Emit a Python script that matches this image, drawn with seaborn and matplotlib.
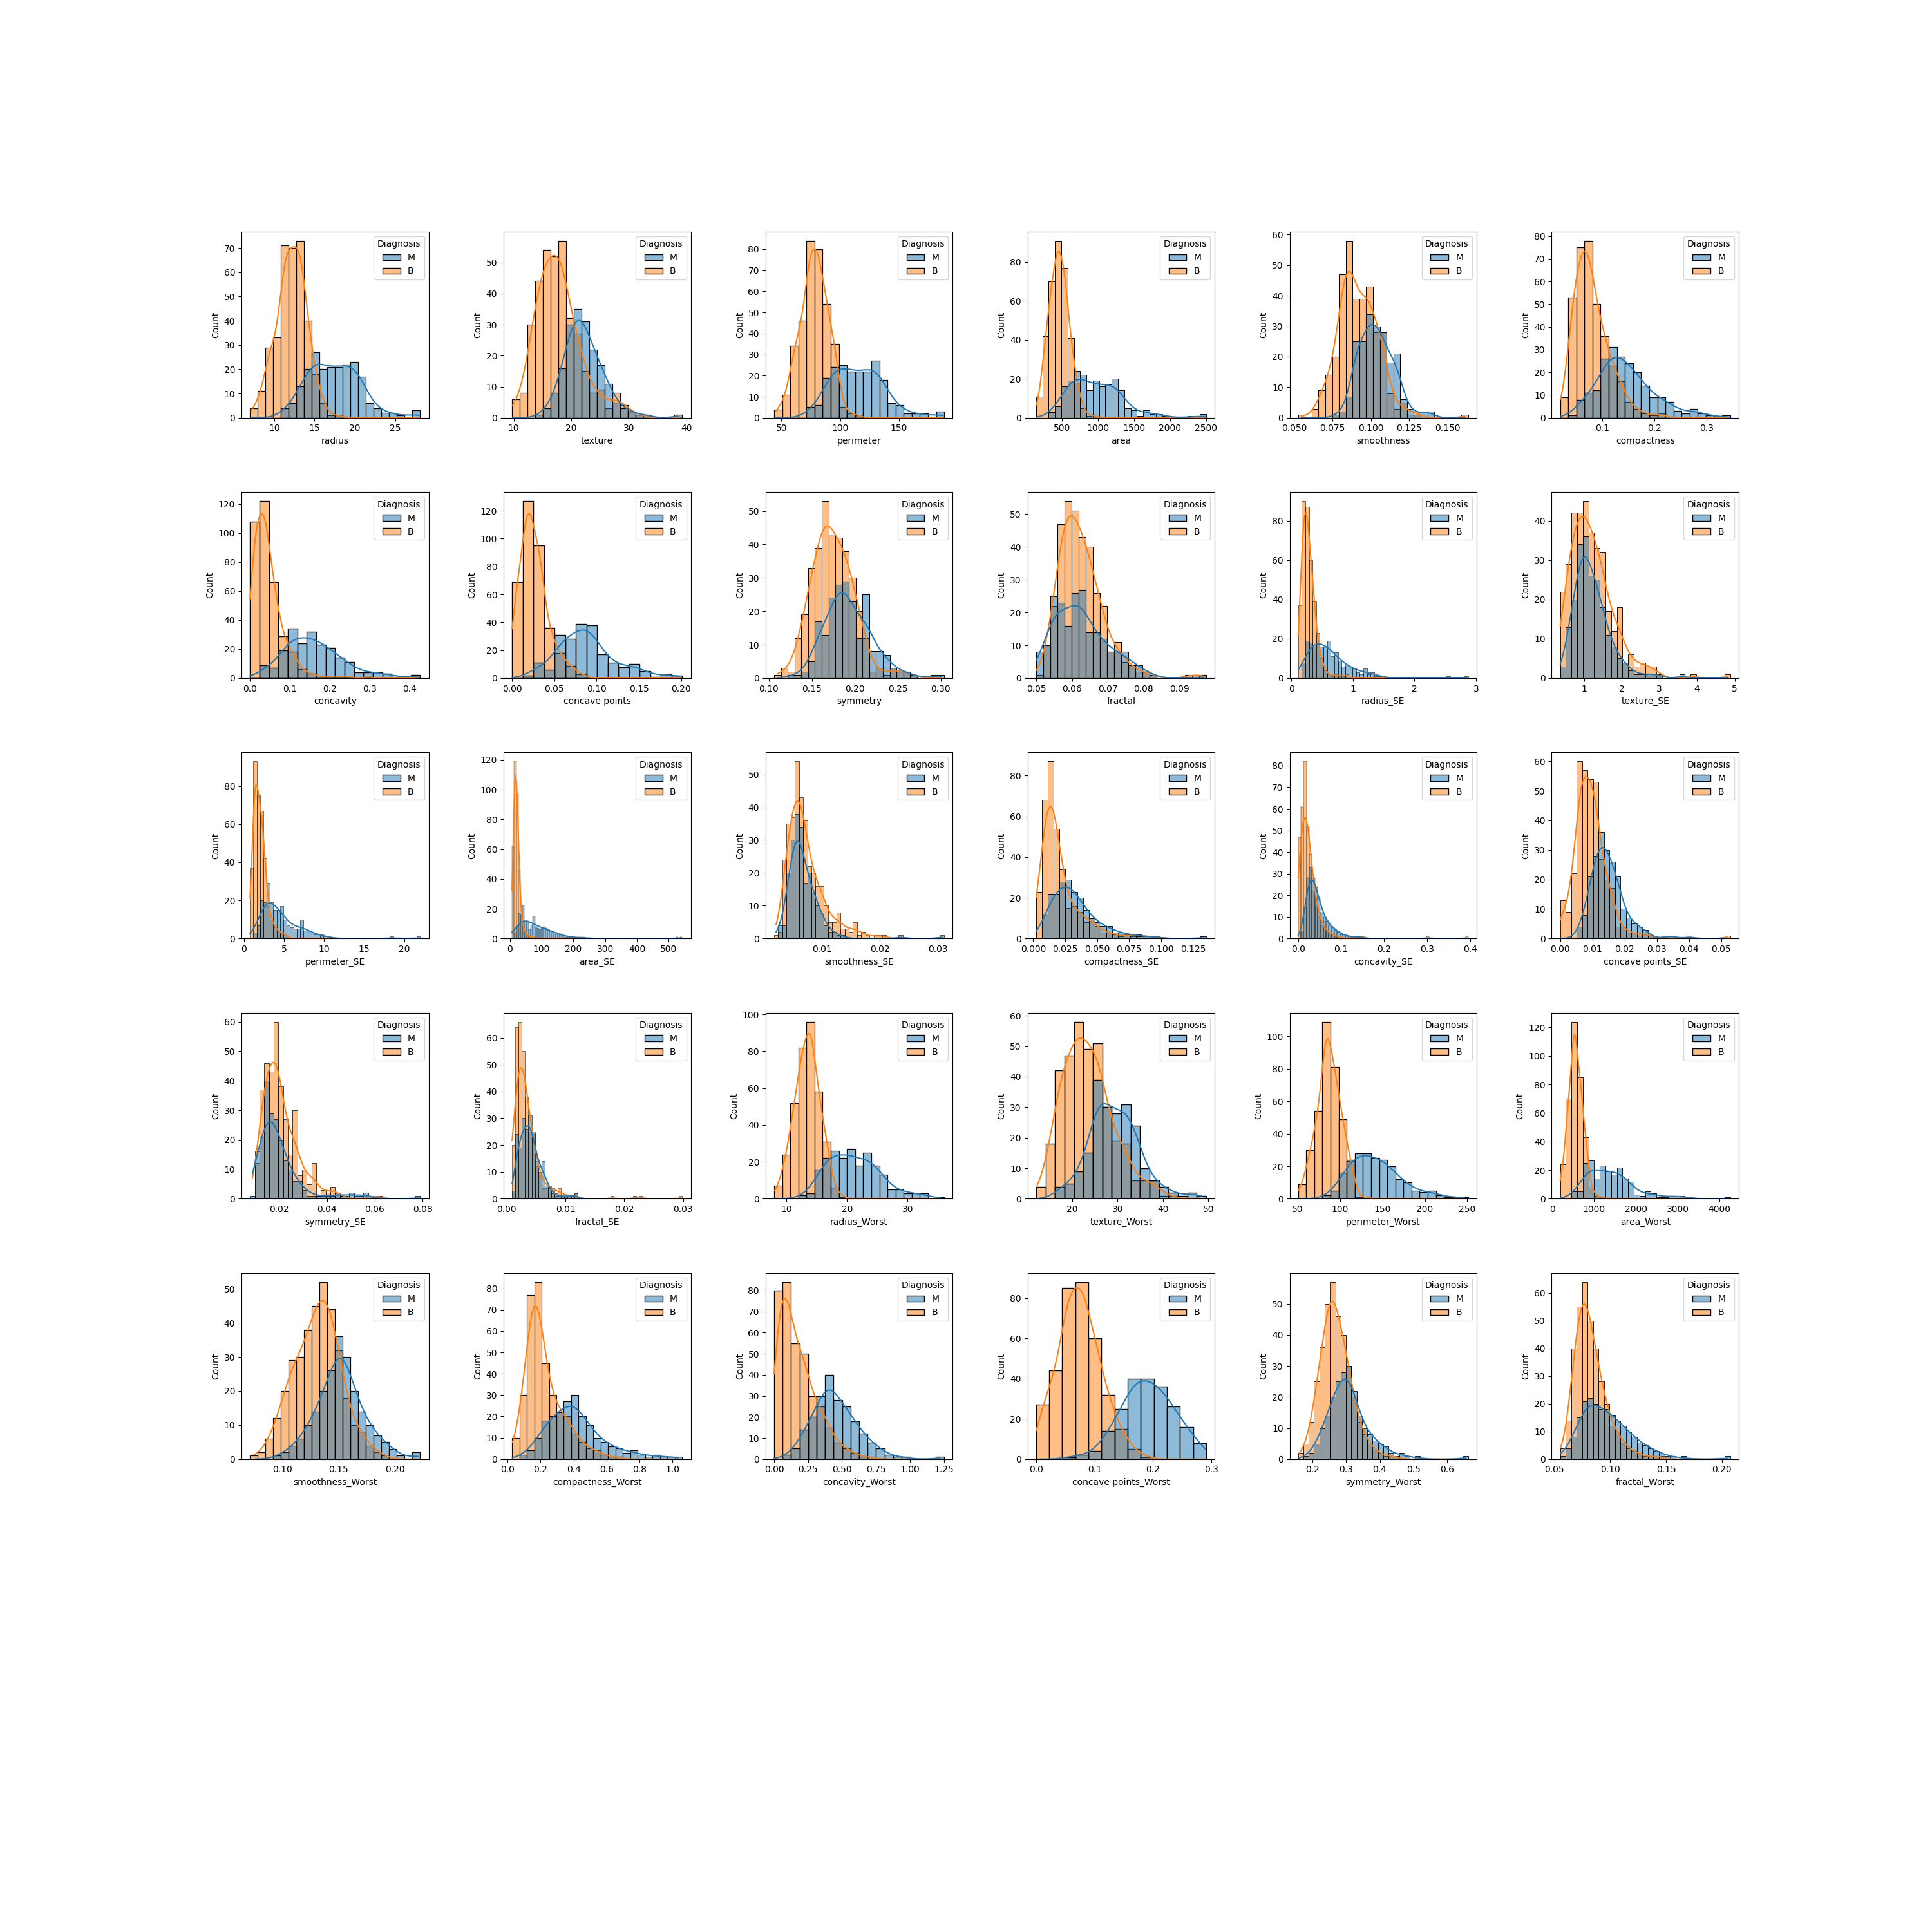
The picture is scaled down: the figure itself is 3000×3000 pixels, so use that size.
import numpy as np
import pandas as pd
import matplotlib
matplotlib.use("Agg")
import matplotlib.pyplot as plt
import seaborn as sns

features = ["radius", "texture", "perimeter", "area", "smoothness", "compactness",
            "concavity", "concave points", "symmetry", "fractal", "radius_SE", "texture_SE",
            "perimeter_SE", "area_SE", "smoothness_SE", "compactness_SE", "concavity_SE",
            "concave points_SE", "symmetry_SE", "fractal_SE", "radius_Worst", "texture_Worst",
            "perimeter_Worst", "area_Worst", "smoothness_Worst", "compactness_Worst",
            "concavity_Worst", "concave points_Worst", "symmetry_Worst", "fractal_Worst"]

# data range (min, max) of each feature -> histogram bin range
bin_lo = [6.981, 9.71, 43.79, 143.5, 0.05263, 0.01938, 0.0, 0.0, 0.106, 0.04996,
          0.1115, 0.3602, 0.757, 6.802, 0.001713, 0.002252, 0.0, 0.0, 0.007882, 0.0008948,
          7.93, 12.02, 50.41, 185.2, 0.07117, 0.02729, 0.0, 0.0, 0.1565, 0.05504]
bin_hi = [28.11, 39.28, 188.5, 2501.0, 0.1634, 0.3454, 0.4268, 0.2012, 0.304, 0.09744,
          2.873, 4.885, 21.98, 542.2, 0.03113, 0.1354, 0.396, 0.05279, 0.07895, 0.02984,
          36.04, 49.54, 251.2, 4254.0, 0.2226, 1.058, 1.252, 0.291, 0.6638, 0.2075]

# bin counts (M = malignant, B = benign)
radius_M = [0, 0, 0, 0, 4, 6, 13, 20, 27, 20, 21, 21, 22, 23, 17, 6, 4, 2, 2, 1, 0, 3]
radius_B = [4, 11, 29, 33, 71, 70, 73, 40, 18, 6, 1, 1, 0, 0, 0, 0, 0, 0, 0, 0, 0, 0]
texture_M = [0, 0, 0, 1, 3, 8, 16, 30, 35, 31, 22, 17, 11, 5, 3, 2, 1, 1, 0, 0, 0, 1]
texture_B = [6, 8, 30, 44, 54, 52, 57, 32, 27, 15, 8, 9, 3, 8, 4, 2, 1, 0, 0, 0, 0, 0]
perimeter_M = [0, 0, 0, 0, 5, 6, 19, 24, 25, 22, 22, 22, 27, 18, 7, 6, 2, 2, 2, 0, 3]
perimeter_B = [4, 11, 34, 46, 84, 80, 54, 35, 5, 2, 1, 0, 0, 0, 0, 0, 0, 0, 0, 0, 0]
area_M = [0, 0, 3, 6, 16, 19, 24, 22, 14, 19, 16, 17, 20, 14, 5, 4, 1, 4, 2, 2, 1, 0, 0, 0, 1, 0, 2]
area_B = [11, 42, 70, 91, 77, 41, 18, 5, 1, 1, 0, 0, 0, 0, 0, 0, 0, 0, 0, 0, 0, 0, 0, 0, 0, 0, 0]
smoothness_M = [0, 0, 0, 0, 0, 1, 2, 7, 25, 25, 34, 30, 28, 18, 21, 6, 3, 1, 2, 2, 0, 0, 0, 0, 0]
smoothness_B = [1, 0, 3, 9, 14, 20, 47, 58, 39, 39, 43, 28, 28, 8, 3, 5, 1, 2, 0, 0, 0, 0, 0, 0, 1]
compactness_M = [0, 1, 8, 11, 12, 26, 31, 27, 24, 20, 14, 9, 9, 7, 3, 2, 4, 2, 1, 0, 1]
compactness_B = [9, 53, 75, 78, 50, 36, 23, 16, 7, 4, 2, 1, 2, 0, 0, 0, 0, 0, 0, 0, 0]
concavity_M = [0, 9, 7, 19, 34, 24, 32, 23, 21, 14, 11, 4, 4, 4, 3, 1, 0, 2]
concavity_B = [108, 122, 66, 29, 18, 6, 3, 1, 1, 1, 1, 0, 1, 0, 0, 0, 0, 0]
concave_points_M = [0, 2, 11, 6, 31, 28, 39, 38, 17, 11, 8, 10, 5, 1, 3, 2]
concave_points_B = [69, 127, 95, 36, 18, 9, 3, 0, 0, 0, 0, 0, 0, 0, 0, 0]
symmetry_M = [0, 0, 1, 1, 2, 5, 17, 13, 24, 28, 29, 23, 12, 25, 8, 8, 7, 3, 2, 2, 1, 0, 0, 1, 1]
symmetry_B = [1, 3, 2, 12, 19, 33, 39, 53, 43, 42, 38, 30, 20, 12, 2, 3, 1, 3, 2, 2, 1, 0, 0, 0, 0]
fractal_M = [8, 10, 25, 23, 16, 26, 27, 14, 14, 12, 8, 8, 8, 4, 4, 2, 1, 0, 0, 0, 0, 0, 0, 1]
fractal_B = [1, 10, 22, 47, 54, 51, 43, 40, 26, 22, 8, 11, 5, 4, 2, 2, 1, 0, 0, 0, 0, 1, 1, 1]
radius_SE_M = [0, 8, 19, 18, 16, 23, 16, 16, 19, 11, 13, 9, 6, 7, 6, 5, 3, 2, 5, 2, 3, 1, 1, 1,
               0, 0, 0, 0, 0, 0, 0, 0, 0, 0, 0, 0, 0, 0, 0, 0, 0, 1, 0, 0, 0, 0, 1]
radius_SE_B = [37, 90, 87, 60, 39, 17, 10, 4, 2, 1, 2, 1, 1, 2, 0, 0, 0, 0, 0, 0, 0, 0, 0, 0,
               0, 0, 0, 0, 0, 0, 0, 0, 0, 0, 0, 0, 0, 0, 0, 0, 0, 0, 0, 0, 0, 0, 0]
texture_SE_M = [3, 13, 20, 34, 36, 26, 25, 18, 11, 8, 5, 4, 2, 1, 1, 1, 1, 1, 0, 0, 0, 1, 0, 0, 0, 0, 0, 0, 0, 0]
texture_SE_B = [22, 29, 42, 42, 45, 37, 33, 32, 17, 12, 18, 4, 6, 3, 4, 3, 3, 1, 0, 0, 0, 0, 0, 1, 0, 0, 0, 0, 0, 1]
perimeter_SE_M = [0, 3, 7, 20, 19, 29, 19, 15, 15, 17, 10, 7, 6, 5, 5, 10, 4, 4, 3, 2, 2, 2, 1, 1,
                  0, 0, 0, 0, 0, 0, 0, 0, 0, 0, 0, 0, 0, 0, 0, 0, 0, 0, 1, 0, 0, 0, 0, 0, 0, 0, 1]
perimeter_SE_B = [37, 93, 75, 67, 42, 17, 10, 6, 4, 3, 2, 1, 0, 0, 0, 0, 0, 0, 0, 0, 0, 0, 0, 0,
                  0, 0, 0, 0, 0, 0, 0, 0, 0, 0, 0, 0, 0, 0, 0, 0, 0, 0, 0, 0, 0, 0, 0, 0, 0, 0, 0]
area_SE_M = [0, 4, 8, 17, 16, 22, 12, 12, 6, 9, 15, 8, 7, 6, 7, 8, 7, 6, 5, 4, 3, 4, 3, 3, 2, 1, 1, 1, 1, 0,
             1, 0, 1, 1, 1, 0, 0, 0, 0, 0, 0, 0, 0, 0, 0, 0, 0, 0, 0, 0, 0, 0, 0, 0, 0, 0, 0, 0, 0, 0,
             0, 0, 0, 0, 0, 0, 0, 0, 0, 0, 0, 0, 0, 0, 0, 0, 0, 0, 0, 1, 0, 1]
area_SE_B = [62, 119, 98, 46, 15, 8, 4, 2, 1, 1, 1, 0, 0, 0, 0, 0, 0, 0, 0, 0, 0, 0, 0, 0, 0, 0, 0, 0, 0, 0,
             0, 0, 0, 0, 0, 0, 0, 0, 0, 0, 0, 0, 0, 0, 0, 0, 0, 0, 0, 0, 0, 0, 0, 0, 0, 0, 0, 0, 0, 0,
             0, 0, 0, 0, 0, 0, 0, 0, 0, 0, 0, 0, 0, 0, 0, 0, 0, 0, 0, 0, 0, 0]
smoothness_SE_M = [0, 4, 4, 20, 30, 38, 34, 17, 20, 14, 10, 8, 4, 2, 2, 1, 1, 0, 0, 0,
                   0, 0, 0, 0, 0, 0, 0, 0, 0, 0, 1, 0, 0, 0, 0, 0, 0, 0, 0, 0, 1]
smoothness_SE_B = [1, 2, 24, 35, 37, 54, 43, 36, 22, 20, 16, 16, 10, 5, 5, 8, 3, 3, 2, 5,
                   1, 2, 1, 0, 1, 1, 1, 0, 0, 0, 0, 0, 0, 0, 0, 0, 0, 0, 0, 0, 0]
compactness_SE_M = [0, 12, 22, 22, 28, 29, 23, 20, 14, 10, 8, 6, 6, 3, 3, 2, 2, 1, 1, 1, 1, 0, 0, 0, 0, 0, 0, 0, 1]
compactness_SE_B = [23, 68, 87, 54, 34, 15, 16, 13, 8, 10, 6, 3, 3, 2, 1, 2, 1, 2, 1, 1, 1, 0, 0, 0, 0, 0, 0, 0, 0]
concavity_SE_M = [0, 3, 14, 28, 33, 28, 24, 19, 12, 10, 8, 6, 5, 4, 3, 2, 2, 1, 1, 1, 0, 1, 1, 0,
                  0, 0, 0, 0, 0, 0, 0, 0, 0, 0, 0, 0, 0, 0, 0, 0, 0, 0, 0, 0, 0, 0, 0, 0, 0, 0,
                  0, 0, 0, 0, 0, 0, 0, 0, 0, 0, 0]
concavity_SE_B = [47, 61, 82, 52, 39, 22, 15, 10, 6, 5, 3, 2, 2, 1, 1, 0, 0, 0, 0, 0, 0, 0, 1, 1,
                  0, 0, 0, 0, 0, 0, 0, 0, 0, 0, 0, 0, 0, 0, 0, 0, 0, 0, 0, 0, 0, 0, 1, 0, 0, 0,
                  0, 0, 0, 0, 0, 0, 0, 0, 0, 0, 1]
concave_points_SE_M = [0, 0, 0, 4, 8, 21, 28, 36, 30, 26, 21, 10, 7, 5, 4, 3, 1, 0, 0, 1,
                       1, 0, 0, 1, 0, 0, 0, 0, 0, 0, 0]
concave_points_SE_B = [13, 9, 22, 60, 57, 54, 53, 27, 20, 17, 4, 4, 2, 2, 1, 2, 1, 0, 0, 1,
                       0, 0, 0, 0, 0, 0, 0, 0, 0, 0, 1]
symmetry_SE_M = [1, 16, 21, 40, 29, 27, 20, 13, 10, 6, 6, 3, 1, 1, 1, 1, 1, 1, 2, 1, 1, 2, 1, 1,
                 2, 1, 0, 0, 0, 0, 0, 0, 0, 0, 0, 1]
symmetry_SE_B = [0, 12, 37, 46, 43, 60, 38, 27, 15, 30, 8, 10, 5, 12, 1, 3, 2, 4, 2, 1, 0, 0, 0, 0,
                 0, 1, 1, 1, 0, 0, 0, 0, 0, 0, 0, 0]
fractal_SE_M = [3, 24, 19, 30, 26, 31, 25, 14, 10, 14, 5, 4, 2, 1, 1, 1, 1, 1, 1, 2,
                0, 0, 0, 0, 0, 0, 0, 0, 0, 0, 0, 0, 0, 0, 0, 0, 0, 0, 0, 0,
                0, 0, 0, 0, 0, 0, 0, 0, 0, 0, 0, 0]
fractal_SE_B = [20, 64, 66, 55, 38, 25, 24, 12, 10, 4, 4, 5, 4, 2, 4, 1, 1, 1, 1, 2,
                0, 0, 0, 0, 0, 0, 0, 0, 0, 0, 1, 0, 0, 0, 0, 0, 0, 1, 0, 1,
                0, 0, 0, 0, 0, 0, 0, 0, 0, 0, 0, 1]
radius_Worst_M = [0, 0, 0, 2, 3, 16, 22, 26, 22, 27, 18, 25, 18, 13, 5, 5, 3, 3, 3, 0, 1]
radius_Worst_B = [7, 24, 52, 82, 96, 58, 31, 6, 1, 0, 0, 0, 0, 0, 0, 0, 0, 0, 0, 0, 0]
texture_Worst_M = [0, 0, 4, 5, 9, 15, 39, 30, 28, 31, 24, 10, 6, 4, 2, 1, 2, 1]
texture_Worst_B = [4, 18, 42, 47, 58, 49, 51, 30, 19, 18, 6, 6, 6, 1, 1, 0, 0, 0]
perimeter_Worst_M = [0, 0, 0, 2, 5, 16, 24, 28, 28, 25, 24, 20, 12, 10, 5, 4, 5, 2, 1, 1, 1]
perimeter_Worst_B = [9, 30, 54, 109, 81, 49, 23, 1, 1, 0, 0, 0, 0, 0, 0, 0, 0, 0, 0, 0, 0]
area_Worst_M = [0, 0, 5, 5, 25, 27, 14, 23, 19, 17, 22, 14, 12, 3, 2, 5, 4, 1, 1, 2, 2, 2, 1, 0, 0, 0, 0, 0, 0, 1]
area_Worst_B = [24, 70, 124, 85, 43, 8, 2, 1, 0, 0, 0, 0, 0, 0, 0, 0, 0, 0, 0, 0, 0, 0, 0, 0, 0, 0, 0, 0, 0, 0]
smoothness_Worst_M = [0, 0, 0, 1, 2, 4, 6, 10, 14, 20, 26, 36, 30, 20, 14, 10, 7, 5, 3, 1, 0, 2]
smoothness_Worst_B = [1, 2, 6, 12, 20, 29, 30, 38, 45, 52, 44, 32, 18, 10, 8, 4, 2, 1, 0, 0, 0, 0]
compactness_Worst_M = [0, 2, 4, 10, 18, 20, 22, 27, 30, 20, 16, 10, 8, 6, 5, 3, 4, 2, 1, 2, 1, 1, 1]
compactness_Worst_B = [10, 30, 77, 83, 45, 30, 22, 20, 12, 8, 5, 4, 2, 1, 1, 0, 0, 0, 0, 0, 0, 0, 0]
concavity_Worst_M = [0, 2, 5, 14, 20, 30, 40, 28, 25, 18, 12, 8, 5, 2, 1, 1, 0, 0, 0, 1]
concavity_Worst_B = [80, 84, 55, 50, 30, 25, 15, 8, 5, 3, 1, 1, 0, 0, 0, 0, 0, 0, 0, 0]
concave_points_Worst_M = [0, 0, 1, 2, 4, 14, 25, 40, 40, 36, 26, 16, 8]
concave_points_Worst_B = [27, 44, 85, 88, 60, 32, 15, 5, 1, 0, 0, 0, 0]
symmetry_Worst_M = [0, 1, 2, 5, 10, 14, 20, 25, 28, 30, 22, 14, 10, 8, 6, 5, 4, 2, 1, 2, 1, 0, 1,
                    0, 0, 0, 0, 0, 0, 0, 0, 1]
symmetry_Worst_B = [2, 5, 12, 25, 36, 50, 57, 46, 40, 30, 20, 12, 8, 5, 3, 2, 1, 1, 1, 0, 0, 0, 0,
                    0, 0, 0, 0, 0, 0, 0, 0, 0]
fractal_Worst_M = [1, 4, 8, 15, 21, 22, 20, 18, 18, 16, 14, 12, 10, 8, 6, 5, 4, 3, 2, 1, 1, 0, 1,
                   0, 0, 0, 0, 0, 0, 0, 1]
fractal_Worst_B = [4, 14, 40, 55, 64, 50, 40, 28, 20, 12, 10, 6, 4, 3, 2, 1, 1, 1, 1, 0, 0, 0, 0,
                   0, 0, 0, 0, 0, 0, 0, 0]

M_counts = [radius_M, texture_M, perimeter_M, area_M, smoothness_M, compactness_M,
            concavity_M, concave_points_M, symmetry_M, fractal_M, radius_SE_M, texture_SE_M,
            perimeter_SE_M, area_SE_M, smoothness_SE_M, compactness_SE_M, concavity_SE_M,
            concave_points_SE_M, symmetry_SE_M, fractal_SE_M, radius_Worst_M, texture_Worst_M,
            perimeter_Worst_M, area_Worst_M, smoothness_Worst_M, compactness_Worst_M,
            concavity_Worst_M, concave_points_Worst_M, symmetry_Worst_M, fractal_Worst_M]
B_counts = [radius_B, texture_B, perimeter_B, area_B, smoothness_B, compactness_B,
            concavity_B, concave_points_B, symmetry_B, fractal_B, radius_SE_B, texture_SE_B,
            perimeter_SE_B, area_SE_B, smoothness_SE_B, compactness_SE_B, concavity_SE_B,
            concave_points_SE_B, symmetry_SE_B, fractal_SE_B, radius_Worst_B, texture_Worst_B,
            perimeter_Worst_B, area_Worst_B, smoothness_Worst_B, compactness_Worst_B,
            concavity_Worst_B, concave_points_Worst_B, symmetry_Worst_B, fractal_Worst_B]


def spread_in_bins(edges, counts):
    """Place each counted observation evenly inside its histogram bin."""
    out = []
    for k, c in enumerate(counts):
        if c > 0:
            w = edges[k + 1] - edges[k]
            out.append(edges[k] + (np.arange(c) + 0.5) / c * w)
    return np.concatenate(out) if out else np.array([])


fig, axes = plt.subplots(6, 6, figsize=(30, 30), dpi=100)
plt.subplots_adjust(hspace=0.4, wspace=0.4)

for i, name in enumerate(features):
    ax = axes.flat[i]
    m = list(M_counts[i])
    b = list(B_counts[i])
    edges = np.linspace(bin_lo[i], bin_hi[i], len(m) + 1)
    vals = np.concatenate([spread_in_bins(edges, m), spread_in_bins(edges, b)])
    diag = ["M"] * int(sum(m)) + ["B"] * int(sum(b))
    df = pd.DataFrame({name: vals, "Diagnosis": diag})
    sns.histplot(data=df, x=name, hue="Diagnosis", hue_order=["M", "B"],
                 bins=edges, kde=True, ax=ax)
    sns.move_legend(ax, "upper right")

for ax in axes.flat[len(features):]:
    ax.remove()

fig.savefig("out.png", dpi=100)
